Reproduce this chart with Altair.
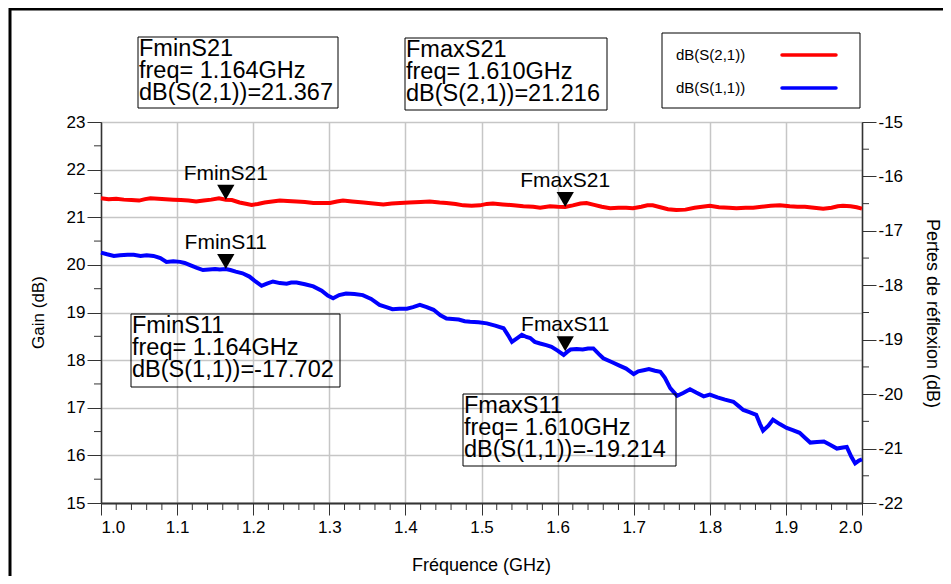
import altair as alt
import pandas as pd

# ---------------- data ----------------
freq_s21 = [1.000, 1.010, 1.020, 1.030, 1.040, 1.050, 1.058, 1.065, 1.075, 1.085,
            1.095, 1.105, 1.115, 1.125, 1.135, 1.145, 1.155, 1.164, 1.172, 1.182,
            1.192, 1.198, 1.206, 1.215, 1.225, 1.235, 1.245, 1.257, 1.268, 1.279,
            1.290, 1.301, 1.310, 1.318, 1.330, 1.345, 1.358, 1.371, 1.382, 1.393,
            1.405, 1.420, 1.432, 1.445, 1.454, 1.466, 1.476, 1.487, 1.498, 1.507,
            1.515, 1.528, 1.542, 1.555, 1.568, 1.577, 1.590, 1.600, 1.610, 1.620,
            1.630, 1.638, 1.648, 1.658, 1.669, 1.680, 1.690, 1.699, 1.710, 1.718,
            1.725, 1.735, 1.745, 1.756, 1.768, 1.780, 1.790, 1.800, 1.812, 1.825,
            1.835, 1.847, 1.857, 1.868, 1.880, 1.892, 1.905, 1.915, 1.925, 1.937,
            1.949, 1.960, 1.968, 1.975, 1.985, 1.993, 2.000]
gain_s21 = [21.40, 21.38, 21.39, 21.37, 21.36, 21.35, 21.38, 21.40, 21.39, 21.38,
            21.37, 21.36, 21.35, 21.33, 21.35, 21.37, 21.40, 21.367, 21.36, 21.31,
            21.28, 21.26, 21.28, 21.31, 21.33, 21.35, 21.34, 21.33, 21.32, 21.30,
            21.30, 21.30, 21.33, 21.35, 21.33, 21.31, 21.29, 21.27, 21.29, 21.30,
            21.31, 21.32, 21.33, 21.31, 21.30, 21.28, 21.25, 21.24, 21.25, 21.28,
            21.29, 21.27, 21.25, 21.23, 21.22, 21.20, 21.23, 21.22, 21.216, 21.25,
            21.29, 21.30, 21.26, 21.22, 21.19, 21.20, 21.20, 21.19, 21.22, 21.25,
            21.25, 21.21, 21.17, 21.15, 21.16, 21.20, 21.22, 21.24, 21.21, 21.20,
            21.19, 21.20, 21.20, 21.22, 21.24, 21.25, 21.23, 21.22, 21.22, 21.20,
            21.18, 21.20, 21.23, 21.24, 21.23, 21.21, 21.18]

freq_s11 = [1.000, 1.008, 1.017, 1.025, 1.035, 1.043, 1.052, 1.060, 1.069, 1.078,
            1.086, 1.095, 1.104, 1.110, 1.117, 1.126, 1.134, 1.142, 1.150, 1.156,
            1.164, 1.170, 1.177, 1.186, 1.195, 1.203, 1.211, 1.218, 1.226, 1.235,
            1.244, 1.250, 1.257, 1.268, 1.279, 1.290, 1.298, 1.305, 1.313, 1.322,
            1.333, 1.344, 1.355, 1.366, 1.375, 1.383, 1.392, 1.402, 1.410, 1.419,
            1.428, 1.437, 1.446, 1.454, 1.462, 1.470, 1.478, 1.485, 1.496, 1.507,
            1.518, 1.529, 1.535, 1.540, 1.547, 1.553, 1.559, 1.564, 1.570, 1.577,
            1.585, 1.592, 1.600, 1.608, 1.613, 1.617, 1.625, 1.633, 1.640, 1.647,
            1.654, 1.660, 1.671, 1.682, 1.690, 1.700, 1.706, 1.713, 1.720, 1.728,
            1.735, 1.741, 1.748, 1.757, 1.765, 1.774, 1.782, 1.792, 1.800, 1.810,
            1.820, 1.831, 1.838, 1.844, 1.852, 1.861, 1.866, 1.870, 1.877, 1.883,
            1.892, 1.901, 1.909, 1.918, 1.925, 1.932, 1.941, 1.950, 1.958, 1.967,
            1.975, 1.980, 1.986, 1.991, 1.996, 2.000]
rl_s11 = [-17.40, -17.43, -17.46, -17.45, -17.44, -17.44, -17.46, -17.45, -17.46, -17.50,
          -17.57, -17.56, -17.57, -17.59, -17.63, -17.68, -17.72, -17.71, -17.70, -17.71,
          -17.702, -17.72, -17.75, -17.78, -17.84, -17.93, -18.01, -17.97, -17.93, -17.96,
          -17.97, -17.95, -17.95, -17.98, -18.02, -18.10, -18.19, -18.24, -18.18, -18.15,
          -18.16, -18.18, -18.25, -18.36, -18.40, -18.44, -18.43, -18.43, -18.40, -18.36,
          -18.40, -18.45, -18.55, -18.61, -18.62, -18.63, -18.66, -18.67, -18.68, -18.70,
          -18.74, -18.79, -18.92, -19.04, -18.97, -18.91, -18.95, -18.97, -19.04, -19.07,
          -19.10, -19.13, -19.20, -19.28, -19.22, -19.18, -19.17, -19.18, -19.16, -19.16,
          -19.26, -19.34, -19.41, -19.48, -19.53, -19.63, -19.58, -19.56, -19.54, -19.57,
          -19.59, -19.70, -19.89, -20.03, -19.98, -19.91, -19.97, -20.04, -20.01, -20.06,
          -20.10, -20.14, -20.22, -20.29, -20.33, -20.38, -20.55, -20.67, -20.58, -20.47,
          -20.55, -20.62, -20.66, -20.71, -20.80, -20.89, -20.88, -20.87, -20.93, -21.00,
          -20.98, -20.97, -21.15, -21.27, -21.22, -21.20]

x_ticks = [1.0, 1.1, 1.2, 1.3, 1.4, 1.5, 1.6, 1.7, 1.8, 1.9, 2.0]
x_minor = [round(1.0 + 0.02 * i, 2) for i in range(51) if i % 5]
left_ticks = [15, 16, 17, 18, 19, 20, 21, 22, 23]
left_minor = [15.5, 16.5, 17.5, 18.5, 19.5, 20.5, 21.5, 22.5]
right_ticks = [-22, -21, -20, -19, -18, -17, -16, -15]
right_minor = [-21.5, -20.5, -19.5, -18.5, -17.5, -16.5, -15.5]

mk_s21_names = ["FminS21", "FmaxS21"]
mk_s21_freq = [1.164, 1.610]
mk_s21_val = [21.367, 21.216]
mk_s11_names = ["FminS11", "FmaxS11"]
mk_s11_freq = [1.164, 1.610]
mk_s11_val = [-17.702, -19.214]

legend_labels = ["dB(S(2,1))", "dB(S(1,1))"]
series_colors = ["#ff0000", "#0000ff"]

# ---------------- styling ----------------
FONT = "Liberation Sans"
W, H = 761, 381
GRID = "#c6c6c6"
AX = "#333333"

xscale = alt.Scale(domain=[1.0, 2.0], nice=False, zero=False)
lscale = alt.Scale(domain=[15, 23], nice=False, zero=False)
rscale = alt.Scale(domain=[-22, -15], nice=False, zero=False)

xaxis = alt.Axis(values=x_ticks, format=".1f", title="Fréquence (GHz)",
                 grid=True, gridColor=GRID, gridWidth=1.5,
                 domainColor=AX, domainWidth=2, tickColor=AX, tickSize=12,
                 labelFontSize=17, labelPadding=4, labelFont=FONT, labelColor="black",
                 titleFont=FONT, titleFontSize=18, titleFontWeight="normal", titleColor="black",
                 titleX=380, titleY=62, titleBaseline="middle", titleAnchor="middle")
laxis = alt.Axis(values=left_ticks, orient="left", title="Gain (dB)",
                 grid=True, gridColor=GRID, gridWidth=1.5,
                 domainColor=AX, domainWidth=1.5, tickColor=AX, tickSize=14,
                 labelFontSize=17, labelPadding=2, labelFont=FONT, labelColor="black",
                 titleFont=FONT, titleFontSize=17, titleFontWeight="normal", titleColor="black",
                 titleX=-63, titleY=190, titleAngle=270, titleBaseline="middle",
                 titleAlign="center")
raxis = alt.Axis(values=right_ticks, orient="right", title="Pertes de réflexion (dB)",
                 grid=False, labelExpr="'' + datum.value",
                 domainColor=AX, domainWidth=1.5, tickColor=AX, tickSize=14,
                 labelFontSize=17, labelPadding=2, labelFont=FONT, labelColor="black",
                 titleFont=FONT, titleFontSize=18, titleFontWeight="normal", titleColor="black",
                 titleX=69, titleY=191, titleAngle=90, titleBaseline="middle",
                 titleAlign="center")

one = pd.DataFrame({"k": [0]})

X = lambda fld: alt.X(fld, scale=xscale, axis=xaxis)
YL = lambda fld: alt.Y(fld, scale=lscale, axis=laxis)
YR = lambda fld: alt.Y(fld, scale=rscale, axis=raxis)

# ---------------- left group (S21) ----------------
df21 = pd.DataFrame({"f": freq_s21, "y": gain_s21})
line21 = alt.Chart(df21).mark_line(color=series_colors[0], strokeWidth=4).encode(
    x=X("f:Q"), y=YL("y:Q"))
mk21 = pd.DataFrame({"f": mk_s21_freq, "y": mk_s21_val, "name": mk_s21_names})
tri21 = alt.Chart(mk21).mark_point(shape="triangle-down", filled=True, color="black",
                                   size=300, opacity=1, yOffset=-7.5).encode(
    x=X("f:Q"), y=YL("y:Q"))
lab21 = alt.Chart(mk21).mark_text(font=FONT, fontSize=21, color="black",
                                  baseline="alphabetic", align="center", dy=-20).encode(
    x=X("f:Q"), y=YL("y:Q"), text="name:N")
lminor = alt.Chart(pd.DataFrame({"y": left_minor})).mark_rule(color=AX, strokeWidth=1).encode(
    y=YL("y:Q"), x=alt.value(-7), x2=alt.value(0))
xminor = alt.Chart(pd.DataFrame({"f": x_minor})).mark_rule(color=AX, strokeWidth=1).encode(
    x=X("f:Q"), y=alt.value(H), y2=alt.value(H + 7))
left_group = alt.layer(line21, lminor, xminor, tri21, lab21)

# ---------------- right group (S11) ----------------
df11 = pd.DataFrame({"f": freq_s11, "y": rl_s11})
line11 = alt.Chart(df11).mark_line(color=series_colors[1], strokeWidth=4).encode(
    x=X("f:Q"), y=YR("y:Q"))
mk11 = pd.DataFrame({"f": mk_s11_freq, "y": mk_s11_val, "name": mk_s11_names})
tri11 = alt.Chart(mk11).mark_point(shape="triangle-down", filled=True, color="black",
                                   size=300, opacity=1, yOffset=-7.5).encode(
    x=X("f:Q"), y=YR("y:Q"))
lab11 = alt.Chart(mk11).mark_text(font=FONT, fontSize=21, color="black",
                                  baseline="alphabetic", align="center", dy=-20).encode(
    x=X("f:Q"), y=YR("y:Q"), text="name:N")
rminor = alt.Chart(pd.DataFrame({"y": right_minor})).mark_rule(color=AX, strokeWidth=1).encode(
    y=YR("y:Q"), x=alt.value(W), x2=alt.value(W + 7))
right_group = alt.layer(line11, rminor, tri11, lab11)

# ---------------- annotations ----------------
def box(x0, x1, y0, y1):
    return alt.Chart(one).mark_rect(fillOpacity=0, stroke="black", strokeWidth=1).encode(
        x=alt.value(x0), x2=alt.value(x1), y=alt.value(y0), y2=alt.value(y1))

def boxtext(x, y, txt):
    return alt.Chart(one).mark_text(font=FONT, fontSize=23.5, align="left", baseline="top",
                                    lineBreak="\n", lineHeight=22, color="black").encode(
        x=alt.value(x), y=alt.value(y), text=alt.value(txt))

def marker_text(name, f, v, sname):
    return f"{name}\nfreq= {f:.3f}GHz\ndB({sname})={v:.3f}"

frame = alt.Chart(one).mark_rect(fillOpacity=0, stroke="black", strokeWidth=3).encode(
    x=alt.value(-91), x2=alt.value(W + 300), y=alt.value(-113), y2=alt.value(H + 300))

ann = [
    frame,
    box(37, 237, -85, -14), boxtext(38, -85, marker_text(mk_s21_names[0], mk_s21_freq[0], mk_s21_val[0], "S(2,1)")),
    box(304, 506, -84, -12), boxtext(305, -84, marker_text(mk_s21_names[1], mk_s21_freq[1], mk_s21_val[1], "S(2,1)")),
    box(30, 239, 192, 265), boxtext(31, 192, marker_text(mk_s11_names[0], mk_s11_freq[0], mk_s11_val[0], "S(1,1)")),
    box(362, 575, 272, 344), boxtext(363, 272, marker_text(mk_s11_names[1], mk_s11_freq[1], mk_s11_val[1], "S(1,1)")),
    box(561, 759, -89, -14),
]
for i, (lab, col) in enumerate(zip(legend_labels, series_colors)):
    yy = -67 + 33 * i
    ann.append(alt.Chart(one).mark_text(font=FONT, fontSize=15, align="left", baseline="middle",
                                        color="black").encode(
        x=alt.value(575), y=alt.value(yy), text=alt.value(lab)))
    ann.append(alt.Chart(one).mark_rule(color=col, strokeWidth=3.5, strokeCap="round").encode(
        x=alt.value(681), x2=alt.value(735), y=alt.value(yy)))

annotations = alt.layer(*ann)

chart = alt.layer(left_group, right_group, annotations).resolve_scale(y="independent").properties(
    width=W, height=H,
    autosize=alt.AutoSizeParams(type="none"),
    padding={"left": 93, "top": 114, "right": 81, "bottom": 73},
    background="white",
).configure_view(stroke="black", strokeWidth=1).configure_axis(labelFont=FONT, titleFont=FONT)

chart.save("out.html", embed_options={"renderer": "svg", "actions": False})
